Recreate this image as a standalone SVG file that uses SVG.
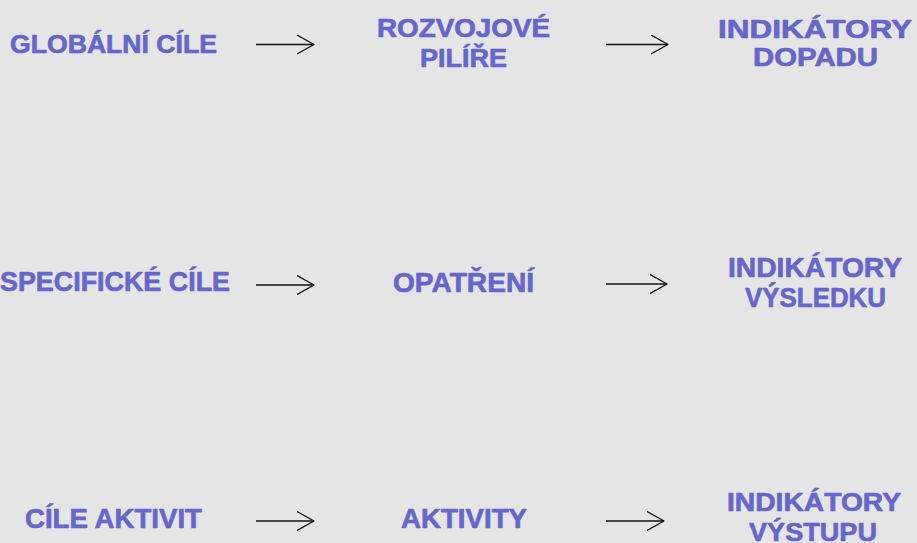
<svg xmlns="http://www.w3.org/2000/svg" width="917" height="543" viewBox="0 0 917 543">
<style>
.t{font-family:"Liberation Sans",Arial,sans-serif;font-weight:bold;fill:#6766cc;stroke:#6766cc;stroke-width:0.7;stroke-linejoin:round}
.s{font-size:26px}
.m{font-size:28px}
.b{font-size:26px}
.c{stroke:#111;stroke-width:1.3;fill:none}
</style>
<defs>
<marker id="ah" markerUnits="userSpaceOnUse" viewBox="0 0 18 20" refX="17" refY="10" markerWidth="18" markerHeight="20" orient="auto">
<path d="M0,0.5 L17,10 L0,19.5" fill="none" stroke="#111" stroke-width="1.3" stroke-linejoin="round"/>
</marker>
</defs>
<rect width="917" height="543" fill="#e5e5e5"/>
<g id="connectors" class="c" marker-end="url(#ah)">
<path d="M256,44.5 H314"/>
<path d="M606,44.5 H668"/>
<path d="M256,285 H314"/>
<path d="M606,284 H667"/>
<path d="M256,521 H314"/>
<path d="M606,521 H664"/>
</g>
<g id="globalni-cile"><text class="t s" x="10" y="53" textLength="207" lengthAdjust="spacingAndGlyphs">GLOBÁLNÍ CÍLE</text></g>
<g id="rozvojove-pilire"><text class="t s" x="377" y="37" textLength="173" lengthAdjust="spacingAndGlyphs">ROZVOJOVÉ</text><text class="t s" x="420" y="67" textLength="87" lengthAdjust="spacingAndGlyphs">PILÍŘE</text></g>
<g id="indikatory-dopadu"><text class="t s" x="718" y="38" textLength="194" lengthAdjust="spacingAndGlyphs">INDIKÁTORY</text><text class="t s" x="753" y="66" textLength="125" lengthAdjust="spacingAndGlyphs">DOPADU</text></g>
<g id="specificke-cile"><text class="t m" x="0" y="291" textLength="230" lengthAdjust="spacingAndGlyphs">SPECIFICKÉ CÍLE</text></g>
<g id="opatreni"><text class="t m" x="393" y="292" textLength="141" lengthAdjust="spacingAndGlyphs">OPATŘENÍ</text></g>
<g id="indikatory-vysledku"><text class="t m" x="728" y="277" textLength="174" lengthAdjust="spacingAndGlyphs">INDIKÁTORY</text><text class="t m" x="745" y="307" textLength="141" lengthAdjust="spacingAndGlyphs">VÝSLEDKU</text></g>
<g id="cile-aktivit"><text class="t m" x="25" y="528" textLength="177" lengthAdjust="spacingAndGlyphs">CÍLE AKTIVIT</text></g>
<g id="aktivity"><text class="t m" x="401" y="528" textLength="126" lengthAdjust="spacingAndGlyphs">AKTIVITY</text></g>
<g id="indikatory-vystupu"><text class="t b" x="727" y="511" textLength="174" lengthAdjust="spacingAndGlyphs">INDIKÁTORY</text><text class="t b" x="749" y="541" textLength="128" lengthAdjust="spacingAndGlyphs">VÝSTUPU</text></g>
</svg>
